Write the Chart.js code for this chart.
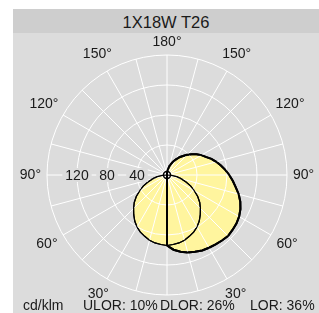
<!DOCTYPE html>
<html>
<head>
<meta charset="utf-8">
<script src="https://cdn.jsdelivr.net/npm/chart.js@4.4.1/dist/chart.umd.min.js"></script>
<style>
  html, body { margin: 0; padding: 0; background: #fff; }
  #wrap { position: relative; width: 319px; height: 313px; overflow: hidden; font-family: 'Liberation Sans', Arial, sans-serif; color: #1a1a1a; }
  #panel { position: absolute; left: 13px; top: 9px; right: 0; bottom: 0; background: #dcdcdc; }
  #title { position: absolute; left: 13px; top: 9px; right: 0; height: 24px; background: #cecece; text-align: center; font-size: 16.5px; line-height: 26px; }
  #chart { position: absolute; left: 0; top: 0; }
  .foot { position: absolute; top: 297px; font-size: 14px; line-height: 16px; white-space: nowrap; }
</style>
</head>
<body>
<div id="wrap">
  <div id="panel"></div>
  <div id="title">1X18W T26</div>
  <canvas id="chart" width="319" height="313"></canvas>
  <div class="foot" style="left:23px">cd/klm</div>
  <div class="foot" style="left:83px">ULOR: 10%</div>
  <div class="foot" style="left:160px">DLOR: 26%</div>
  <div class="foot" style="left:250px">LOR: 36%</div>
</div>
<script>
// gamma angles, 0 = straight down, 180 = straight up
const gammaDeg = [0, 5, 10, 15, 20, 25, 30, 35, 40, 45, 50, 55, 60, 65, 70, 75, 80, 85, 90,
  95, 100, 105, 110, 115, 120, 125, 130, 135, 140, 145, 150, 155, 160, 165, 170, 175, 180];

// C0-C180 plane (symmetric), cd/klm
const c0Plane = [94, 93, 92, 90, 87, 84, 80, 75, 69, 63, 57, 50, 42, 35, 27, 20, 13, 6, 0,
  0, 0, 0, 0, 0, 0, 0, 0, 0, 0, 0, 0, 0, 0, 0, 0, 0, 0];

// C90 half plane (right side), cd/klm
const c90Plane = [94, 100, 104, 107, 109, 111, 112, 113, 114, 115, 114, 113, 111, 108, 104, 99, 93, 88, 83,
  78, 73, 68, 63, 57, 53, 48, 43, 38, 33, 29, 24, 20, 16, 12, 8, 5, 3];

// C270 half plane (left side), cd/klm
const c270Plane = [94, 0, 0, 0, 0, 0, 0, 0, 0, 0, 0, 0, 0, 0, 0, 0, 0, 0, 0,
  0, 0, 0, 0, 0, 0, 0, 0, 0, 0, 0, 0, 0, 0, 0, 0, 0, 0];

const angleTickDeg = [180, 150, 120, 90, 60, 30];
const intensityTicks = [40, 80, 120];

const PANEL = '#dcdcdc';
const INK = '#1a1a1a';
const FILL = '#fff59e';
const FONT = '14px "Liberation Sans", Arial, sans-serif';

// radar runs clockwise from the top: right half 180..0, then left half 5..175
function toRadar(right, left) {
  return [...right.slice().reverse(), ...left.slice(1, left.length - 1)];
}
const labels = toRadar(gammaDeg, gammaDeg).map(String);
const STEP = 360 / labels.length;

// draw the outlines again so they sit above the white grid
const outlinesOnTop = {
  id: 'outlinesOnTop',
  afterDraw(chart) {
    const ctx = chart.ctx;
    const metas = chart.getSortedVisibleDatasetMetas().slice().reverse();
    metas.forEach(meta => {
      if (meta.dataset) meta.dataset.draw(ctx, chart.chartArea);
      meta.data.forEach(el => el.draw(ctx, chart.chartArea));
    });
  }
};

// angle labels around the rim and intensity labels on the left axis
const polarLabels = {
  id: 'polarLabels',
  afterDraw(chart) {
    const s = chart.scales.r;
    const ctx = chart.ctx;
    const rim = s.getDistanceFromCenterForValue(s.max);
    ctx.save();
    ctx.font = FONT;
    ctx.textAlign = 'center';
    ctx.textBaseline = 'middle';
    angleTickDeg.forEach(g => {
      const text = g + '°';
      const idxs = g === 180 ? [0] : [(180 - g) / STEP, (180 + g) / STEP];
      idxs.forEach(i => {
        const hw = ctx.measureText(text).width / 2;
        const a = s.getIndexAngle(i);
        const d = rim + 6 + hw * Math.abs(Math.sin(a)) + 7 * Math.abs(Math.cos(a));
        const p = s.getPointPosition(i, d);
        ctx.fillStyle = INK;
        ctx.fillText(text, p.x, p.y);
      });
    });
    const leftIdx = 270 / STEP;
    intensityTicks.forEach(v => {
      const p = s.getPointPosition(leftIdx, s.getDistanceFromCenterForValue(v));
      const t = String(v);
      const w = ctx.measureText(t).width;
      ctx.fillStyle = PANEL;
      ctx.fillRect(p.x - w / 2 - 3, p.y - 7, w + 6, 14);
      ctx.fillStyle = INK;
      ctx.fillText(t, p.x, p.y + 1);
    });
    ctx.restore();
  }
};

new Chart(document.getElementById('chart'), {
  type: 'radar',
  data: {
    labels: labels,
    datasets: [
      {
        label: 'C90-C270',
        data: toRadar(c90Plane, c270Plane),
        fill: true,
        backgroundColor: FILL,
        borderColor: '#000',
        borderWidth: 2,
        pointRadius: 0
      },
      {
        label: 'C0-C180',
        data: toRadar(c0Plane, c0Plane),
        fill: true,
        backgroundColor: FILL,
        borderColor: '#000',
        borderWidth: 1.2,
        pointRadius: 0
      },
      {
        label: 'source',
        data: [0],
        showLine: false,
        pointRadius: 3.5,
        pointBorderWidth: 1.4,
        pointBorderColor: '#000',
        pointBackgroundColor: 'rgba(0,0,0,0)'
      }
    ]
  },
  options: {
    responsive: false,
    animation: false,
    devicePixelRatio: 1,
    layout: { padding: { left: 47, right: 32, top: 55, bottom: 18 } },
    plugins: {
      legend: { display: false },
      tooltip: { enabled: false },
      filler: { drawTime: 'beforeDatasetsDraw' }
    },
    scales: {
      r: {
        min: 0,
        max: 160,
        startAngle: 0,
        ticks: { display: false, stepSize: 40, z: 1 },
        grid: { circular: true, color: '#ffffff', lineWidth: 1, z: 1 },
        angleLines: {
          color: '#ffffff',
          lineWidth: c => (c.index % 3 === 0 ? 1 : 0)
        },
        pointLabels: { display: false }
      }
    }
  },
  plugins: [outlinesOnTop, polarLabels]
});
</script>
</body>
</html>
